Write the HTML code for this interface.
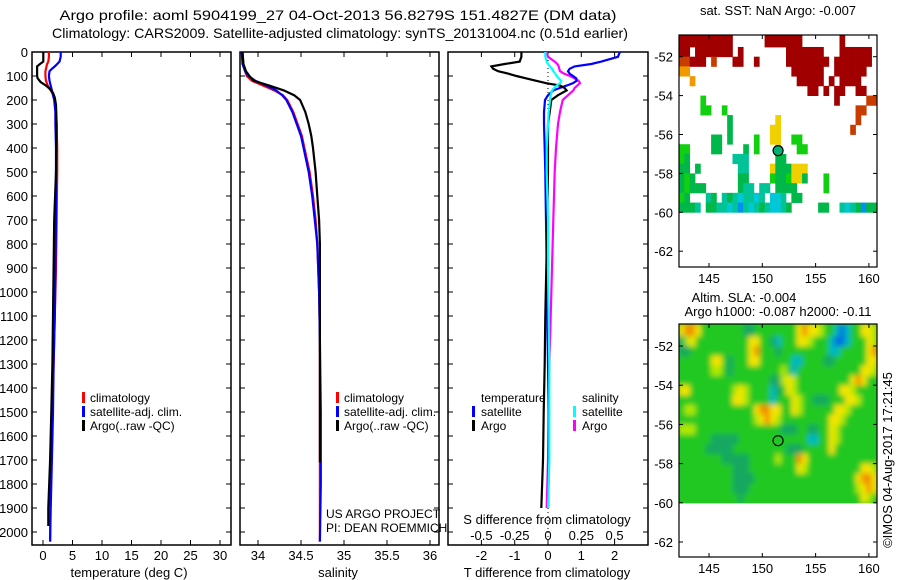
<!DOCTYPE html>
<html><head><meta charset="utf-8"><style>
html,body{margin:0;padding:0;background:#fff;}
svg{display:block;font-family:"Liberation Sans",Arial,sans-serif;}
</style></head><body>
<svg id="chart" width="900" height="580" viewBox="0 0 900 580" xmlns="http://www.w3.org/2000/svg">
<defs>
<filter id="smooth" x="-5%" y="-5%" width="110%" height="110%"><feGaussianBlur stdDeviation="2.6"/></filter>
<clipPath id="slaClip"><rect x="679" y="324" width="198" height="179.4"/></clipPath>
</defs>
<rect x="0" y="0" width="900" height="580" fill="#fff"/>
<text x="338" y="20" font-size="14" text-anchor="middle" textLength="557" lengthAdjust="spacingAndGlyphs">Argo profile: aoml 5904199_27 04-Oct-2013 56.8279S 151.4827E (DM data)</text>
<text x="340" y="38" font-size="14" text-anchor="middle" textLength="576" lengthAdjust="spacingAndGlyphs">Climatology: CARS2009. Satellite-adjusted climatology: synTS_20131004.nc (0.51d earlier)</text>
<g id="g1"></g>
<g id="g2"></g>
<g id="g3"></g>
<g id="g4"></g>
<g id="g5"></g>
<text x="129" y="577" font-size="13" text-anchor="middle">temperature (deg C)</text>
<text x="338" y="577" font-size="13" text-anchor="middle">salinity</text>
<text x="547" y="577" font-size="13" text-anchor="middle">T difference from climatology</text>
<text x="547" y="524" font-size="13" text-anchor="middle">S difference from climatology</text>
<g font-size="12">
<rect x="82" y="392" width="3" height="11" fill="#f00"/><text x="90" y="402">climatology</text>
<rect x="82" y="406" width="3" height="11" fill="#00f"/><text x="90" y="416">satellite-adj. clim.</text>
<rect x="82" y="420" width="3" height="11" fill="#000"/><text x="90" y="430">Argo(..raw -QC)</text>
</g>
<g font-size="12">
<rect x="336" y="392" width="3" height="11" fill="#f00"/><text x="344" y="402">climatology</text>
<rect x="336" y="406" width="3" height="11" fill="#00f"/><text x="344" y="416">satellite-adj. clim.</text>
<rect x="336" y="420" width="3" height="11" fill="#000"/><text x="344" y="430">Argo(..raw -QC)</text>
</g>
<text x="326" y="518" font-size="12">US ARGO PROJECT</text>
<text x="326" y="532" font-size="12">PI: DEAN ROEMMICH</text>
<g font-size="12">
<text x="481" y="402">temperature</text>
<rect x="472" y="406" width="3" height="11" fill="#00f"/><text x="481" y="416">satellite</text>
<rect x="472" y="420" width="3" height="11" fill="#000"/><text x="481" y="430">Argo</text>
<text x="582" y="402">salinity</text>
<rect x="573" y="406" width="3" height="11" fill="#0ff"/><text x="582" y="416">satellite</text>
<rect x="573" y="420" width="3" height="11" fill="#f0f"/><text x="582" y="430">Argo</text>
</g>
<text x="778" y="15" font-size="13" text-anchor="middle">sat. SST: NaN Argo: -0.007</text>
<text x="744" y="302" font-size="13" text-anchor="middle">Altim. SLA: -0.004</text>
<text x="778" y="316" font-size="13" text-anchor="middle">Argo h1000: -0.087 h2000: -0.11</text>
<text x="0" y="0" font-size="13" text-anchor="middle" transform="translate(892,460) rotate(-90)">©IMOS 04-Aug-2017 17:21:45</text>
</svg>
<script>
// ---- data ----
const depthTicks = [0,100,200,300,400,500,600,700,800,900,1000,1100,1200,1300,1400,1500,1600,1700,1800,1900,2000];
const tempTicks = [0,5,10,15,20,25,30];
const salTicks = [34,34.5,35,35.5,36];
const salTickLabels = ["34","34.5","35","35.5","36"];
const tdiffTicks = [-2,-1,0,1,2];
const sdiffTicks = [-0.5,-0.25,0,0.25,0.5];
const sdiffTickLabels = ["-0.5","-0.25","0","0.25","0.5"];

const zT = [0,20,40,50,60,70,80,100,120,140,160,180,200,250,300,400,500,700,900,1100,1300,1500,1700,1900,2040];
const climT = [1.0,1.0,0.9,0.7,0.6,0.5,0.4,0.4,0.5,0.8,1.3,1.8,2.0,2.2,2.3,2.4,2.4,2.3,2.2,2.0,1.8,1.6,1.4,1.25,1.2];
const satT = [3.0,3.0,2.8,2.4,2.0,1.5,1.1,1.0,1.1,1.3,1.5,1.7,1.9,2.1,2.1,2.2,2.2,2.2,2.1,2.0,1.8,1.7,1.5,1.3,1.2];
const zArgoT = [0,20,40,50,60,80,100,110,125,140,155,170,190,220,300,500,700,900,1100,1300,1500,1700,1900,1975];
const argoT = [0.05,0.05,0.05,-0.5,-1.0,-1.0,-1.0,-0.9,-0.4,0.5,1.2,1.7,2.0,2.2,2.3,2.2,1.9,1.8,1.7,1.6,1.4,1.2,0.9,0.9];

const zS = [0,50,80,100,120,140,160,180,200,250,300,350,400,500,600,700,800,1000,1200,1500,1800,2040];
const climS = [33.82,33.83,33.85,33.87,33.93,34.06,34.19,34.29,34.34,34.41,34.46,34.51,34.54,34.60,34.64,34.67,34.69,34.71,34.72,34.72,34.72,34.72];
const satS = [33.81,33.82,33.85,33.89,33.97,34.10,34.21,34.28,34.33,34.40,34.45,34.50,34.53,34.59,34.63,34.66,34.69,34.71,34.72,34.73,34.73,34.72];
const zArgoS = [0,50,80,100,120,140,160,180,200,250,300,350,400,500,600,700,800,1000,1200,1500,1710];
const argoS = [33.82,33.83,33.86,33.90,33.95,34.13,34.30,34.42,34.49,34.55,34.59,34.62,34.64,34.67,34.69,34.71,34.72,34.72,34.72,34.72,34.72];

const zD = [0,20,40,50,60,70,80,90,100,110,120,130,140,150,160,180,200,250,300,400,500,700,900,1100,1300,1500,1700,1900];
const argoTdiff = [-0.8,-0.8,-0.85,-1.3,-1.7,-1.65,-1.5,-1.2,-0.95,-0.65,-0.35,-0.05,0.36,0.5,0.56,0.3,0.1,0.05,0.0,0.0,0.0,-0.02,-0.05,-0.08,-0.1,-0.13,-0.15,-0.2];
const satTdiff = [2.16,2.1,1.6,1.3,0.8,0.65,0.6,0.65,0.75,0.85,0.86,0.75,0.56,0.35,0.16,0.0,-0.09,-0.12,-0.12,-0.1,-0.08,-0.06,-0.04,-0.02,0.0,0.02,0.03,0.0];
const satSdiff = [-0.02,-0.02,-0.01,0.0,0.015,0.03,0.04,0.055,0.065,0.08,0.1,0.09,0.065,0.045,0.03,0.02,0.015,0.005,0.0,-0.01,-0.01,0.0,0.0,0.005,0.01,0.01,0.01,0.0];
const argoSdiff = [-0.01,0.0,0.05,0.07,0.08,0.085,0.09,0.12,0.165,0.2,0.23,0.24,0.22,0.2,0.19,0.15,0.11,0.09,0.075,0.06,0.05,0.04,0.03,0.02,0.01,0.005,0.0,-0.01];

const lonTicks = [145,150,155,160];
const latTicks = [-52,-54,-56,-58,-60,-62];
const argoPos = [151.48,-56.83];
const sstGrid = [
"RRRRRRRRRR......RRRRRRR.......R......",
"RR.RRRRRRR.R........RRRRRRR...RRRRRR.",
"OORRR.O...RR..R.....RRRRRRRR.RRRRRRR.",
"oo...................RRRRRR..RRRRRR..",
"..o...................RRRRR.R.RRRR...",
"........................RR.R.RR..RR..",
"....G........................R.....OO",
"....GG..G........................OO..",
".........g........Y..............O...",
".........g.......YY.............O....",
"......gg.g....G..YY..GG..............",
"GG....gg....g.G...Y...GG.............",
"Gg........ttt.....gg.................",
"gg.g.......tt....YgggYYY.............",
"gGg........gg....GggGYYg...G.........",
"gGggg......gtt.tt.gggg.....G.........",
"Gg...tg.tgtcttct.cct.gg..............",
"gggt.ggttctbtctgtcctg.....gg..tctgbgg"];
const slaGrid = [
"yooy........tt........yoyyl..cbc..yyl",
"tly..........yy..tc...yyl...cbbc...yl",
"tt...........yo...t.........cc.....yo",
"......yy.t...yy......cc....tt......yy",
"......ll.t.........l.c............yyl",
".................ttlyl..........yoy..",
"yy........lyl....ct.yl........yyl....",
"..........yyl....c...yl..ttt...yyl...",
".ll...........yooyy..yl......yyl.....",
"..............lyoyl.........yyl......",
"lll................ttt..tt..yl.......",
"......ttttt.............cc..yl.......",
".....ttttt..........ttt.....y........",
"........ttttt.....l...oy.............",
"..........ttt.........yl..........yyl",
"..........tttt...................yooy",
"..........ttt....................lyoy",
"...........t......................yl."];
const sstColors = {R:"#a00000",O:"#c83c00",o:"#f09a00",Y:"#f0d000",G:"#10d010",g:"#00b84a",t:"#00c498",c:"#00c8d8",b:"#0090f0"};
const slaColors = {".":"#22c822",l:"#b0e800",y:"#f4e400",o:"#f09000",t:"#14a860",c:"#00b8c0",b:"#0070e0"};

// ---- helpers ----
const NS="http://www.w3.org/2000/svg";
function mk(tag,attrs,parent){const e=document.createElementNS(NS,tag);for(const k in attrs)e.setAttribute(k,attrs[k]);parent.appendChild(e);return e;}
const yD = d => 52 + d*0.24;
const xT = t => 43 + t*5.9;
const xS = s => 258 + (s-34)*86;
const xTd = v => 548 + v*33.3;
const xSd = v => 548 + v*133.2;

function panelFrame(g,x0,x1,name){
  const r=mk("rect",{x:x0,y:52,width:x1-x0,height:493,fill:"none",stroke:"#000","stroke-width":1.5},g);
  
  
  depthTicks.forEach(d=>{
    const t1=mk("line",{x1:x0,x2:x0+5,y1:yD(d),y2:yD(d),stroke:"#000"},g);
    
    
    const t2=mk("line",{x1:x1-5,x2:x1,y1:yD(d),y2:yD(d),stroke:"#000"},g);
    
    
  });
}
function xTicks(g,vals,labels,fx,ylab){
  vals.forEach((v,i)=>{
    const x=fx(v);
    const a=mk("line",{x1:x,x2:x,y1:545,y2:540,stroke:"#000"},g);
    
    
    const b=mk("line",{x1:x,x2:x,y1:52,y2:57,stroke:"#000"},g);
    
    
    const t=mk("text",{x:x,y:ylab,"font-size":13,"text-anchor":"middle"},g);
    t.textContent=labels[i];
    
    
  });
}
function profile(g,zs,vals,fx,color,name){
  const pts=zs.map((z,i)=>fx(vals[i]).toFixed(1)+","+yD(z).toFixed(1)).join(" ");
  const p=mk("polyline",{points:pts,fill:"none",stroke:color,"stroke-width":2.2,"stroke-linejoin":"miter"},g);
  
  
}

// ---- panel 1 ----
const g1=document.getElementById("g1");
panelFrame(g1,32,231,"temperature-plot");
xTicks(g1,tempTicks,tempTicks.map(String),xT,560);
depthTicks.forEach(d=>{
  const t=mk("text",{x:28,y:yD(d)+5,"font-size":13,"text-anchor":"end"},g1);
  t.textContent=String(d);
  
  
});
profile(g1,zT,climT,xT,"#f00","climatology-temperature-line");
profile(g1,zT,satT,xT,"#00f","satellite-temperature-line");
profile(g1,zArgoT,argoT,xT,"#000","argo-temperature-line");

// ---- panel 2 ----
const g2=document.getElementById("g2");
panelFrame(g2,240,439,"salinity-plot");
xTicks(g2,salTicks,salTickLabels,xS,560);
profile(g2,zS,climS,xS,"#f00","climatology-salinity-line");
profile(g2,zS,satS,xS,"#00f","satellite-salinity-line");
profile(g2,zArgoS,argoS,xS,"#000","argo-salinity-line");

// ---- panel 3 ----
const g3=document.getElementById("g3");
panelFrame(g3,448,648,"difference-plot");
xTicks(g3,tdiffTicks,tdiffTicks.map(String),xTd,560);
sdiffTicks.forEach((v,i)=>{
  const t=mk("text",{x:xSd(v),y:540,"font-size":13,"text-anchor":"middle"},g3);
  t.textContent=sdiffTickLabels[i];
  
  
});
const zl=mk("line",{x1:xTd(0),x2:xTd(0),y1:52,y2:545,stroke:"#000","stroke-dasharray":"1,3"},g3);


profile(g3,zD,argoSdiff,xSd,"#f0f","argo-salinity-diff-line");
profile(g3,zD,satTdiff,xTd,"#00f","satellite-temperature-diff-line");
profile(g3,zD,argoTdiff,xTd,"#000","argo-temperature-diff-line");
profile(g3,zD,satSdiff,xSd,"#0ff","satellite-salinity-diff-line");

// ---- maps ----
function drawMap(g,top,bottom,lat52y,pxPerLat,grid,colors,skipDot,baseColor,name,smooth){
  const xL=lon=>709+(lon-145)*10.66;
  const yL=lat=>lat52y+(-52-lat)*pxPerLat;
  let outer=g, cg=g;
  if(smooth){
    outer=mk("g",{"clip-path":"url(#slaClip)"},g);
    
    
    cg=mk("g",{filter:"url(#smooth)"},outer);
    
    
  }
  if(baseColor){
    const b=mk("rect",{x:670,y:top-10,width:215,height:yL(-60)-top+20,fill:baseColor},cg);
    
    
  }
  grid.forEach((row,i)=>{
    const y0=i===0?top:yL(-51-0.5*i);
    const y1=yL(-51.5-0.5*i);
    for(let j=0;j<row.length;j++){
      const ch=row[j];
      if(ch===skipDot)continue;
      const x0=679+j*5.35;
      const c=mk("rect",{x:x0.toFixed(2),y:y0.toFixed(2),width:5.7,height:(y1-y0+0.4).toFixed(2),fill:colors[ch]},cg);
      
      
    }
  });
  const f=mk("rect",{x:679,y:top,width:198,height:bottom-top,fill:"none",stroke:"#000","stroke-width":1.2},g);
  
  
  lonTicks.forEach(lon=>{
    const x=xL(lon);
    const a=mk("line",{x1:x,x2:x,y1:bottom,y2:bottom-4,stroke:"#000"},g);
    
    
    const b=mk("line",{x1:x,x2:x,y1:top,y2:top+4,stroke:"#000"},g);
    
    
    const t=mk("text",{x:x,y:bottom+16,"font-size":13,"text-anchor":"middle"},g);
    t.textContent=String(lon);
    
    
  });
  latTicks.forEach(lat=>{
    const y=yL(lat);
    const a=mk("line",{x1:679,x2:683,y1:y,y2:y,stroke:"#000"},g);
    
    
    const b=mk("line",{x1:873,x2:877,y1:y,y2:y,stroke:"#000"},g);
    
    
    const t=mk("text",{x:673,y:y+5,"font-size":13,"text-anchor":"end"},g);
    t.textContent=String(lat);
    
    
  });
  return {xL,yL};
}
const g4=document.getElementById("g4");
const m1=drawMap(g4,35,267,56.7,19.45,sstGrid,sstColors,".",null,"sst",false);
const c1=mk("circle",{cx:m1.xL(argoPos[0]),cy:m1.yL(argoPos[1]),r:5,fill:"#00b070",stroke:"#000","stroke-width":1.2},g4);


const g5=document.getElementById("g5");
const m2=drawMap(g5,324,557,346,19.6,slaGrid,slaColors,".","#22c822","sla",true);
const c2=mk("circle",{cx:m2.xL(argoPos[0]),cy:m2.yL(argoPos[1]),r:5,fill:"none",stroke:"#000","stroke-width":1.2},g5);


</script>
</body></html>
